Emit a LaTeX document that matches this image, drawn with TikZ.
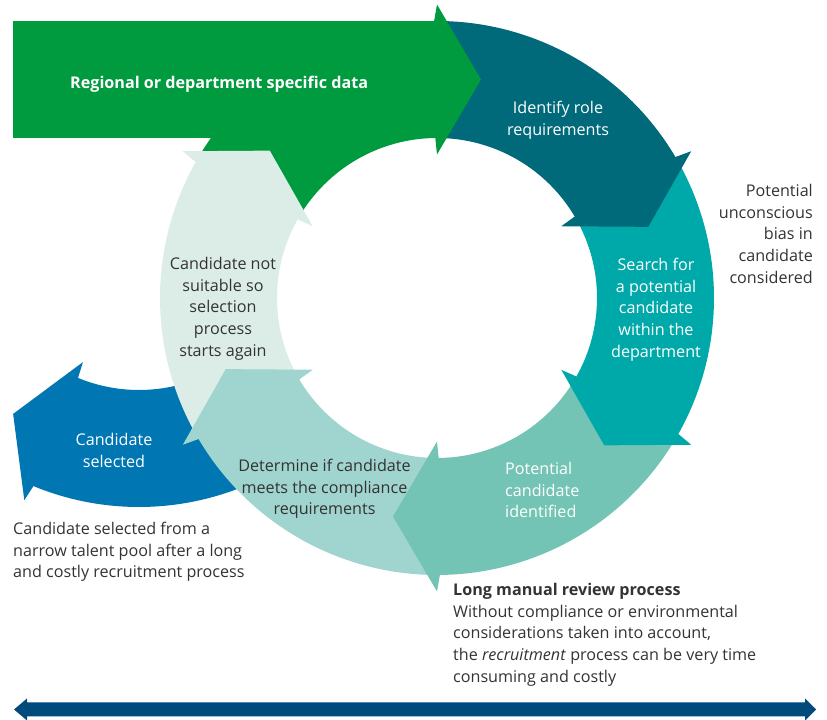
\documentclass[tikz,border=0pt]{standalone}
\usepackage{fontspec}
\setmainfont{Open Sans}
\definecolor{cgreen}{HTML}{009B3E}
\definecolor{cdark}{HTML}{00697A}
\definecolor{cteal}{HTML}{00A9A9}
\definecolor{cmid}{HTML}{74C4B5}
\definecolor{clight}{HTML}{9FD4CF}
\definecolor{cpale}{HTML}{DCEDE7}
\definecolor{cblue}{HTML}{0076B3}
\definecolor{cnavy}{HTML}{004A7C}
\definecolor{ctext}{HTML}{333333}
\newcommand\ringbody[4]{%
  \fill[#4, shift={#1}] ({#2}:277) arc[start angle=#2, end angle=#3, radius=277]
    -- ({#3}:160) arc[start angle=#3, end angle=#2, radius=160] -- cycle;}
\newcommand\ringhead[3]{%
  \fill[#3, shift={#1}] ({#2+0.6}:277) -- ({#2}:293.5) -- ({#2-11.385}:222.9)
    -- ({#2}:143.5) -- ({#2+0.6}:160) -- cycle;}
\tikzset{
  txt/.style={font=\fontsize{16.2}{22}\selectfont, inner sep=0pt, text=ctext},
  wtxt/.style={txt, text=white},
}
\begin{document}
\begin{tikzpicture}[x=1bp,y=1bp]
\useasboundingbox (0,0) rectangle (827,720);
% blue side arc
\ringbody{(139,490)}{-65}{-113}{cblue}
\ringhead{(139,490)}{-113}{cblue}
% ring bodies
\ringbody{(437,422)}{150}{90}{cgreen}
\ringbody{(437,422)}{90}{30}{cdark}
\ringbody{(437,422)}{30}{-30}{cteal}
\ringbody{(437,422)}{-30}{-90}{cmid}
\ringbody{(437,422)}{-90}{-150}{clight}
\ringbody{(437,422)}{-150}{-210}{cpale}
% green band
\fill[cgreen] (13,582) rectangle (437.5,699);
% ring heads
\ringhead{(437,422)}{90}{cgreen}
\ringhead{(437,422)}{30}{cdark}
\ringhead{(437,422)}{-30}{cteal}
\ringhead{(437,422)}{-90}{cmid}
\ringhead{(437,422)}{-150}{clight}
\ringhead{(437,422)}{150}{cpale}
% bottom double arrow
\fill[cnavy] (14,10.5) -- (27,21.5) -- (27,17.5) -- (805,17.5) -- (805,21.5)
  -- (816,10.5) -- (805,-0.5) -- (805,3.5) -- (27,3.5) -- (27,-0.5) -- cycle;
% texts
\node[wtxt, font=\fontsize{16.2}{22}\selectfont\bfseries, anchor=base west] (regional) at (70,631) {Regional or department specific data};
\node[wtxt, align=center, anchor=north] (identify) at (558,622.4) {\strut Identify role\\requirements};
\node[wtxt, align=center, anchor=north] (search) at (656,465.4) {\strut Search for\\a potential\\candidate\\within the\\department};
\node[txt, align=right, anchor=north east] (bias) at (813,539.4) {\strut Potential\\unconscious\\bias in\\candidate\\considered};
\node[wtxt, align=left, anchor=north west] (identified) at (505,261.4) {\strut Potential\\candidate\\identified};
\node[txt, align=center, anchor=north] (determine) at (324.5,264.4) {\strut Determine if candidate\\meets the compliance\\requirements};
\node[txt, align=center, anchor=north] (notsuitable) at (223,466.4) {\strut Candidate not\\suitable so\\selection\\process\\starts again};
\node[wtxt, align=center, anchor=north] (selected) at (114,290.4) {\strut Candidate\\selected};
\node[txt, align=left, anchor=north west] (pool) at (13,201.4) {\strut Candidate selected from a\\narrow talent pool after a long\\and costly recruitment process};
\node[txt, align=left, anchor=north west] (review) at (453,140.4) {\strut\textbf{Long manual review process}\\Without compliance or environmental\\considerations taken into account,\\the \textit{recruitment} process can be very time\\consuming and costly};
\end{tikzpicture}
\end{document}
